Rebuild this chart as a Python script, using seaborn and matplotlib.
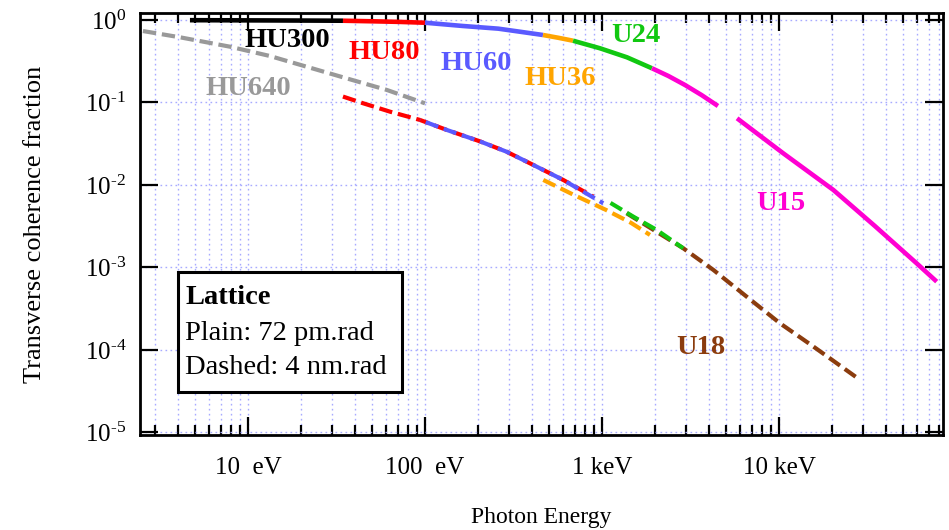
import numpy as np
import pandas as pd
import matplotlib
matplotlib.use("Agg")
import matplotlib.pyplot as plt
from matplotlib.ticker import FixedLocator, NullLocator, FixedFormatter, LogLocator
import seaborn as sns

# ---- Data: photon energy (eV) vs transverse coherence fraction ----
# Plain lines: 72 pm.rad lattice
hu300_E = [4.7, 10, 20, 34.4]
hu300_f = [0.995, 0.99, 0.985, 0.98]
hu80_E = [34.4, 50, 70, 100]
hu80_f = [0.98, 0.965, 0.95, 0.927]
hu60_E = [100, 164, 260, 344, 464]
hu60_f = [0.927, 0.846, 0.785, 0.721, 0.658]
hu36_E = [464, 564, 686]
hu36_f = [0.658, 0.61, 0.561]
u24_E = [686, 975, 1384, 1915]
u24_f = [0.561, 0.454, 0.353, 0.260]
u15a_E = [1915, 2371, 2943, 3654, 4520]
u15a_f = [0.260, 0.2096, 0.163, 0.123, 0.0907]
u15b_E = [5795, 10570, 20280, 34800, 60000, 77800]
u15b_f = [0.0643, 0.0242, 0.0087, 0.00318, 0.00112, 0.000673]

# Dashed lines: 4 nm.rad lattice
hu640d_E = [2.55, 4.13, 7.9, 13.3, 21.5, 36.1, 60.8, 100]
hu640d_f = [0.735, 0.617, 0.475, 0.366, 0.271, 0.196, 0.142, 0.0977]
hu80d_E = [34.4, 44.8, 63.4, 93.7, 133, 205, 289, 392, 604, 893]
hu80d_f = [0.118, 0.0977, 0.0774, 0.0614, 0.0464, 0.0337, 0.0253, 0.0183, 0.0115, 0.00722]
hu60d_E = [93.7, 133, 205, 289, 392, 604, 1016]
hu60d_f = [0.0614, 0.0464, 0.0337, 0.0253, 0.0183, 0.0115, 0.0060]
hu36d_E = [466, 700, 1050, 1450, 1866]
hu36d_f = [0.0115, 0.0075, 0.0050, 0.0035, 0.00248]
u24d_E = [1086, 1503, 2037, 2876]
u24d_f = [0.00628, 0.00413, 0.00285, 0.00171]
u18d_E = [1377, 2876, 4258, 6560, 10140, 15630, 28700]
u18d_f = [0.00454, 0.00171, 0.000933, 0.000443, 0.00021, 0.00011, 0.0000433]

# Curve labels
lab_text = ["HU300", "HU80", "HU60", "HU640", "HU36", "U24", "U15", "U18"]
lab_E = [16.6, 58.6, 194, 10.0, 579, 1556, 10250, 3622]
lab_f = [0.57, 0.409, 0.301, 0.146, 0.193, 0.64, 0.00589, 0.000106]

x_major = [10, 100, 1000, 10000]
x_major_labels = ["10  eV", "100  eV", "1 keV", "10 keV"]
y_major = [1e-5, 1e-4, 1e-3, 1e-2, 1e-1, 1e0]
y_major_labels = [r"$\mathregular{10^{\text{-}5}}$", r"$\mathregular{10^{\text{-}4}}$",
                  r"$\mathregular{10^{\text{-}3}}$", r"$\mathregular{10^{\text{-}2}}$",
                  r"$\mathregular{10^{\text{-}1}}$", r"$\mathregular{10^{0}}$"]

C_BLACK = "#000000"
C_RED = "#ff0000"
C_BLUE = "#5a5aff"
C_GRAY = "#999999"
C_ORANGE = "#ffa500"
C_GREEN = "#11c811"
C_MAGENTA = "#ff00d2"
C_BROWN = "#8b3c0e"

sns.set_style("ticks")
plt.rcParams["font.family"] = ["Liberation Serif", "DejaVu Serif"]
plt.rcParams["mathtext.fontset"] = "custom"
plt.rcParams["mathtext.rm"] = "Liberation Serif"
plt.rcParams["mathtext.it"] = "Liberation Serif:italic"
plt.rcParams["mathtext.bf"] = "Liberation Serif:bold"
plt.rcParams["axes.unicode_minus"] = False
for key in ["text.color", "axes.labelcolor", "xtick.color", "ytick.color",
            "xtick.labelcolor", "ytick.labelcolor"]:
    plt.rcParams[key] = "black"

fig = plt.figure(figsize=(9.49, 5.30), dpi=100)
ax = fig.add_axes([140 / 949, 1 - 435 / 530, 803 / 949, 422 / 530])

SOLID_LW = 3.3
DASH_LW = 3.0
dash = (0, (3.2, 1.4))


def curve(E, f, color, dashed=False, offset=0.0, z=3):
    df = pd.DataFrame({"E": E, "f": f})
    ls = (offset, dash[1]) if dashed else "-"
    sns.lineplot(data=df, x="E", y="f", color=color, ax=ax, sort=False,
                 lw=DASH_LW if dashed else SOLID_LW, linestyle=ls,
                 solid_capstyle="butt", dash_capstyle="butt", zorder=z)


# dashed (4 nm.rad)
curve(hu640d_E, hu640d_f, C_GRAY, dashed=True)
curve(hu80d_E, hu80d_f, C_RED, dashed=True)
curve(hu60d_E, hu60d_f, C_BLUE, dashed=True, offset=3.13, z=4)
curve(hu36d_E, hu36d_f, C_ORANGE, dashed=True)
curve(u18d_E, u18d_f, C_BROWN, dashed=True)
curve(u24d_E, u24d_f, C_GREEN, dashed=True, offset=4.0, z=4)

# plain (72 pm.rad)
curve(hu300_E, hu300_f, C_BLACK)
curve(hu80_E, hu80_f, C_RED)
curve(hu60_E, hu60_f, C_BLUE)
curve(hu36_E, hu36_f, C_ORANGE)
curve(u24_E, u24_f, C_GREEN)
curve(u15a_E, u15a_f, C_MAGENTA)
curve(u15b_E, u15b_f, C_MAGENTA)

ax.set_xscale("log")
ax.set_yscale("log")
ax.set_xlim(2.454, 84450)
ax.set_ylim(9.3e-6, 1.216)

# ticks
ax.xaxis.set_major_locator(FixedLocator(x_major))
ax.xaxis.set_major_formatter(FixedFormatter(x_major_labels))
ax.xaxis.set_minor_locator(LogLocator(base=10, subs=np.arange(2, 10), numticks=20))
ax.yaxis.set_major_locator(FixedLocator(y_major))
ax.yaxis.set_major_formatter(FixedFormatter(y_major_labels))
ax.yaxis.set_minor_locator(NullLocator())
ax.tick_params(which="both", direction="in", top=True, right=True,
               width=1.6, color="black", labelsize=18, labelcolor="black")
ax.tick_params(which="major", length=13)
ax.tick_params(which="minor", length=7)
ax.tick_params(axis="x", pad=16)
ax.tick_params(axis="y", pad=10)

for s in ax.spines.values():
    s.set_linewidth(2.0)
    s.set_color("black")
    s.set_visible(True)

# dotted grid
grid_kw = dict(color="#a8abff", linestyle=(0, (1.2, 2.4)), linewidth=1.0)
ax.grid(True, which="major", axis="both", **grid_kw)
ax.grid(True, which="minor", axis="x", **grid_kw)
ax.set_axisbelow(True)

ax.set_xlabel("Photon Energy", fontsize=17, labelpad=20, color="black")
ax.set_ylabel("Transverse coherence fraction", fontsize=19, labelpad=28, color="black")

# curve labels
lab_colors = [C_BLACK, C_RED, C_BLUE, C_GRAY, C_ORANGE, C_GREEN, C_MAGENTA, C_BROWN]
for t, e, v, c in zip(lab_text, lab_E, lab_f, lab_colors):
    ax.text(e, v, t, color=c, fontsize=20.5, fontweight="bold",
            ha="center", va="center", zorder=6)

# lattice box
rect = plt.Rectangle((178 / 949, 1 - 392 / 530), 224 / 949, 120 / 530,
                     transform=fig.transFigure, facecolor="white",
                     edgecolor="black", linewidth=2.2, zorder=5)
ax.add_patch(rect)
box_lines = [("Lattice", "bold", 298), ("Plain: 72 pm.rad", "normal", 333),
             ("Dashed: 4 nm.rad", "normal", 367)]
for txt, w, ypx in box_lines:
    ax.text(185 / 949, 1 - ypx / 530, txt, transform=fig.transFigure,
            fontsize=20.5, fontweight=w, ha="left", va="center", zorder=7,
            color="black")

fig.savefig("out.png", dpi=100)
